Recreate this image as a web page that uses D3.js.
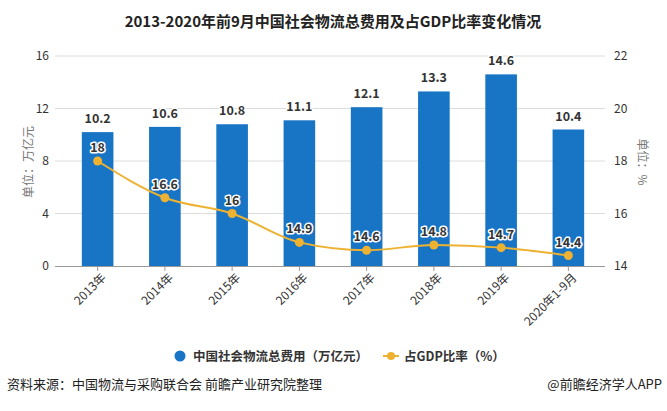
<!DOCTYPE html>
<html><head><meta charset="utf-8">
<script src="https://cdn.jsdelivr.net/npm/d3@7"></script>
<style>body{margin:0;background:#fff;}svg{display:block;font-family:"Microsoft YaHei","Noto Sans CJK SC",sans-serif;}</style>
</head><body>
<svg id="c" width="667" height="411"></svg>
<script>
const categories = ["2013年","2014年","2015年","2016年","2017年","2018年","2019年","2020年1-9月"];
const costValues = [10.2,10.6,10.8,11.1,12.1,13.3,14.6,10.4];
const ratioValues = [18,16.6,16,14.9,14.6,14.8,14.7,14.4];
const leftTicks = [0,4,8,12,16];
const rightTicks = [14,16,18,20,22];

const svg = d3.select("#c");
const blue = "#1874c4", gold = "#eeb232";
const plotTop = 56, plotBottom = 266;
const x = d3.scaleBand().domain(categories).range([64,602]).paddingInner(0.53).paddingOuter(0.265);
const yL = d3.scaleLinear().domain([0,16]).range([plotBottom,plotTop]);
const yR = d3.scaleLinear().domain([14,22]).range([plotBottom,plotTop]);

// title
svg.append("text").attr("x",333).attr("y",27).attr("text-anchor","middle")
  .attr("font-size",15).attr("font-weight","bold").attr("fill","#222").text("2013-2020年前9月中国社会物流总费用及占GDP比率变化情况");

// grid
svg.append("g").selectAll("line").data(leftTicks.slice(1)).join("line")
  .attr("x1",55).attr("x2",605).attr("y1",d=>yL(d)).attr("y2",d=>yL(d))
  .attr("stroke","#dcdcdc").attr("stroke-width",1);

// left axis
const gl = svg.append("g").attr("transform","translate(55,0)")
  .call(d3.axisLeft(yL).tickValues(leftTicks).tickSize(0).tickPadding(6));
gl.select(".domain").remove();
gl.selectAll("text").attr("font-size",12).attr("fill","#333").attr("font-family","'Microsoft YaHei','Noto Sans CJK SC',sans-serif");

const gr = svg.append("g").attr("transform","translate(605,0)")
  .call(d3.axisRight(yR).tickValues(rightTicks).tickSize(0).tickPadding(9));
gr.select(".domain").remove();
gr.selectAll("text").attr("font-size",12).attr("fill","#333").attr("font-family","'Microsoft YaHei','Noto Sans CJK SC',sans-serif");

// axis titles
svg.append("text").attr("transform","translate(33,162) rotate(-90)").attr("text-anchor","middle")
  .attr("font-size",12).attr("fill","#777").text("单位：万亿元");
svg.append("text").attr("transform","translate(638,162) rotate(90)").attr("text-anchor","middle")
  .attr("font-size",12).attr("fill","#777").text("单位：%");

// bars
svg.append("g").selectAll("rect").data(categories).join("rect")
  .attr("x",d=>x(d)).attr("width",x.bandwidth())
  .attr("y",(d,i)=>yL(costValues[i])).attr("height",(d,i)=>plotBottom-yL(costValues[i]))
  .attr("fill",blue);

// x axis
const gx = svg.append("g").attr("transform",`translate(0,${plotBottom})`)
  .call(d3.axisBottom(x).tickSize(5).tickSizeOuter(0));
gx.select(".domain").attr("d","M55,0.5H605").attr("stroke","#999");
gx.selectAll(".tick line").attr("stroke","#999");
gx.selectAll("text").attr("font-size",12).attr("fill","#333")
  .attr("font-family","'Microsoft YaHei','Noto Sans CJK SC',sans-serif")
  .attr("text-anchor","end").attr("dx","-0.2em").attr("dy","0.6em")
  .attr("transform","rotate(-45)");

// line
const cx = d=>x(d)+x.bandwidth()/2;
const line = d3.line().x((d,i)=>cx(categories[i])).y(d=>yR(d)).curve(d3.curveMonotoneX);
svg.append("path").datum(ratioValues).attr("d",line).attr("fill","none").attr("stroke",gold).attr("stroke-width",2);
svg.append("g").selectAll("circle").data(ratioValues).join("circle")
  .attr("cx",(d,i)=>cx(categories[i])).attr("cy",d=>yR(d)).attr("r",4.5).attr("fill",gold);

// labels
function lbl(g, xx, yy, t){
  g.append("text").attr("x",xx).attr("y",yy).attr("text-anchor","middle").attr("font-size",12.5)
   .attr("font-weight","bold").attr("fill","#333").attr("stroke","#fff").attr("stroke-width",3)
   .attr("paint-order","stroke").attr("stroke-linejoin","round").text(t);
}
const lg = svg.append("g");
categories.forEach((c,i)=>lbl(lg,cx(c),yL(costValues[i])-9,costValues[i]));
categories.forEach((c,i)=>lbl(lg,cx(c),yR(ratioValues[i])-9,ratioValues[i]));

// legend
svg.append("circle").attr("cx",180).attr("cy",356).attr("r",5.5).attr("fill",blue);
svg.append("text").attr("x",193).attr("y",361).attr("font-size",12.5).attr("font-weight","bold").attr("fill","#333").text("中国社会物流总费用（万亿元）");
svg.append("line").attr("x1",383).attr("x2",399).attr("y1",356).attr("y2",356).attr("stroke",gold).attr("stroke-width",2);
svg.append("circle").attr("cx",391).attr("cy",356).attr("r",4).attr("fill",gold);
svg.append("text").attr("x",404).attr("y",361).attr("font-size",12.5).attr("font-weight","bold").attr("fill","#333").text("占GDP比率（%）");

// footer
svg.append("text").attr("x",7).attr("y",389).attr("font-size",13).attr("fill","#222").text("资料来源：中国物流与采购联合会 前瞻产业研究院整理");
svg.append("text").attr("x",662).attr("y",389).attr("text-anchor","end").attr("font-size",13).attr("fill","#222").text("@前瞻经济学人APP");
</script>
</body></html>
